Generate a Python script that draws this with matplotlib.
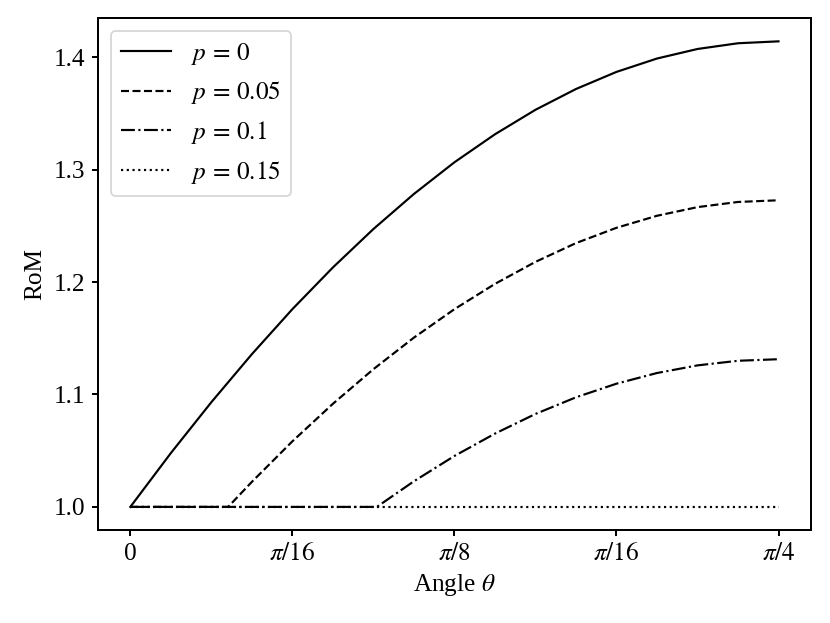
import numpy as np
import matplotlib
matplotlib.use("Agg")
import matplotlib.pyplot as plt

plt.rcParams["font.family"] = "serif"
plt.rcParams["font.serif"] = ["Liberation Serif", "DejaVu Serif"]
plt.rcParams["mathtext.fontset"] = "stix"
plt.rcParams["font.size"] = 14
plt.rcParams["axes.linewidth"] = 1.1
plt.rcParams["xtick.major.width"] = 1.1
plt.rcParams["ytick.major.width"] = 1.1

# angles (rad) and RoM values
theta_p0 = [0.0, 0.0491, 0.0982, 0.1473, 0.1963, 0.2454, 0.2945, 0.3436, 0.3927,
            0.4418, 0.4909, 0.5400, 0.5890, 0.6381, 0.6872, 0.7363, 0.7854]
rom_p0 = [1.0000, 1.0479, 1.0932, 1.1359, 1.1759, 1.2130, 1.2472, 1.2784, 1.3066,
          1.3315, 1.3533, 1.3718, 1.3870, 1.3989, 1.4074, 1.4125, 1.4142]

theta_p005 = [0.0, 0.1185, 0.1473, 0.1963, 0.2454, 0.2945, 0.3436, 0.3927, 0.4418,
              0.4909, 0.5400, 0.5890, 0.6381, 0.6872, 0.7363, 0.7854]
rom_p005 = [1.0000, 1.0000, 1.0223, 1.0583, 1.0917, 1.1225, 1.1506, 1.1759, 1.1984,
            1.2180, 1.2347, 1.2483, 1.2590, 1.2667, 1.2713, 1.2728]

theta_p01 = [0.0, 0.2987, 0.3436, 0.3927, 0.4418, 0.4909, 0.5400, 0.5890, 0.6381,
             0.6872, 0.7363, 0.7854]
rom_p01 = [1.0000, 1.0000, 1.0228, 1.0453, 1.0652, 1.0827, 1.0975, 1.1096, 1.1191,
           1.1259, 1.1300, 1.1314]

theta_p015 = [0.0, 0.7854]
rom_p015 = [1.0000, 1.0000]

tick_pos = [0, np.pi / 16, np.pi / 8, 3 * np.pi / 16, np.pi / 4]
tick_labels = ["0", r"$\pi/16$", r"$\pi/8$", r"$\pi/16$", r"$\pi/4$"]

fig, ax = plt.subplots(figsize=(830 / 130, 623 / 130), dpi=130)
fig.subplots_adjust(left=0.118, right=0.977, bottom=0.149, top=0.971)

lw = 1.2
ax.plot(theta_p0, rom_p0, "-", color="black", lw=lw, label=r"$p\,=\,0$")
ax.plot(theta_p005, rom_p005, "--", color="black", lw=lw, label=r"$p\,=\,0.05$")
ax.plot(theta_p01, rom_p01, "-.", color="black", lw=lw, label=r"$p\,=\,0.1$")
ax.plot(theta_p015, rom_p015, ":", color="black", lw=lw, label=r"$p\,=\,0.15$")

ax.set_xticks(tick_pos)
ax.set_xticklabels(tick_labels)
ax.set_yticks([1.0, 1.1, 1.2, 1.3, 1.4])
ax.set_xlabel(r"Angle $\theta$")
ax.set_ylabel("RoM")
ax.legend(loc="upper left")

fig.savefig("out.png", dpi=130)
